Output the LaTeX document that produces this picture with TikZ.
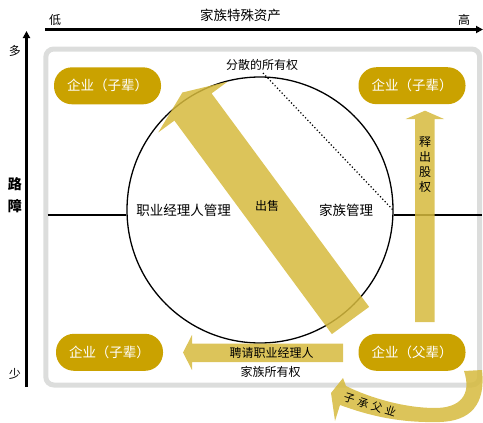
\documentclass[tikz,border=0pt]{standalone}
\usepackage{fontspec}
\setmainfont{Noto Sans CJK SC}
\usetikzlibrary{arrows.meta}
\definecolor{pillc}{RGB}{202,162,0}
\definecolor{bandc}{RGB}{214,186,61}
\definecolor{boxg}{RGB}{220,221,220}
\begin{document}
\begin{tikzpicture}[x=1pt,y=-1pt,
  pill/.style={fill=pillc, rounded corners=18pt, minimum width=107pt, minimum height=37pt, inner sep=0pt, text=white, font=\fontsize{13.5}{15}\selectfont},
  lbl/.style={inner sep=0pt, font=\fontsize{13.5}{15}\selectfont},
  slbl/.style={inner sep=0pt, font=\fontsize{12}{14}\selectfont},
  band/.style={fill=bandc, fill opacity=0.85, draw=none},
  axis/.style={line width=2.6pt, -{Triangle[length=7pt,width=7pt]}}]
\useasboundingbox (0,0) rectangle (483,423);
% gray frame
\draw[boxg, line width=5pt, rounded corners=8pt] (45.8,49) rectangle (479.7,385);
% axes
\coordinate (hx0) at (45,29.5);
\coordinate (hx1) at (483,29.5);
\coordinate (vy0) at (26.5,387);
\coordinate (vy1) at (26.5,31);
\draw[axis] (hx0) -- (hx1);
\draw[axis] (vy0) -- (vy1);
\node[slbl] (low) at (55,20) {低};
\node[slbl] (high) at (464,20) {高};
\node[lbl] (assets) at (240.5,15.5) {家族特殊资产};
\node[slbl] (many) at (15,51) {多};
\node[slbl] (few) at (15,374) {少};
\node[inner sep=0pt, font=\fontsize{14}{16}\selectfont\bfseries] (lu) at (15,184) {路};
\node[inner sep=0pt, font=\fontsize{14}{16}\selectfont\bfseries] (zhang) at (15,206) {障};
% circle
\node[draw, circle, line width=1.3pt, minimum size=266pt, inner sep=0pt] (c) at (260,210) {};
% horizontal split line
\coordinate (l0) at (47.5,215);
\coordinate (r1) at (482,215);
\draw[line width=2pt] (l0) -- (c.west |- l0);
\draw[line width=2pt] (c.east |- r1) -- (r1);
% dotted line
\coordinate (d0) at (263,73);
\coordinate (d1) at (393,210);
\draw[line width=1.2pt, dash pattern=on 1.2pt off 2.2pt] (d0) -- (d1);
\node[slbl] (disp) at (262,65) {分散的所有权};
% big diagonal arrow
\fill[band] (182.4,92.5) -- (227.7,81.6) -- (211.6,93.4) -- (369.1,306.9) -- (331.9,334.1) -- (174.4,120.6) -- (158.3,132.4) -- cycle;
% vertical arrow
\fill[band] (415,322) -- (415,119) -- (405.7,119) -- (425,110.7) -- (444,119) -- (434.5,119) -- (434.5,322) -- cycle;
% horizontal arrow
\fill[band] (343,343.5) -- (192,343.5) -- (192,335) -- (183,352.5) -- (192,370) -- (192,362) -- (343,362) -- cycle;
% curved arrow
\fill[band] (464,371) .. controls (472,395) and (460,408) .. (435,408) .. controls (405,408) and (370,398) .. (346,386) -- (343,378) -- (331,393) -- (335,421) -- (340,405) .. controls (370,416) and (400,423) .. (440,422) .. controls (470,421) and (486,405) .. (482,370) -- cycle;
% pills
\node[pill] (p1) at (107.5,85.8) {企业（子辈）};
\node[pill] (p2) at (412,85.7) {企业（子辈）};
\node[pill] (p3) at (109.5,352.3) {企业（子辈）};
\node[pill] (p4) at (412,352.3) {企业（父辈）};
% texts
\node[lbl] (pm) at (183.5,210.5) {职业经理人管理};
\node[lbl] (fm) at (346,210) {家族管理};
\node[slbl] (sell) at (267,206) {出售};
\node[slbl, align=center, font=\fontsize{12}{15}\selectfont] (rel) at (425,165) {释\\出\\股\\权};
\node[slbl] (hire) at (271.5,353) {聘请职业经理人};
\node[slbl] (fo) at (270.5,371.5) {家族所有权};
\node[slbl, font=\fontsize{11}{13}\selectfont, rotate=-17.6] (succ) at (370,405) {子\kern3.5pt 承\kern3.5pt 父\kern3.5pt 业};
\end{tikzpicture}
\end{document}
